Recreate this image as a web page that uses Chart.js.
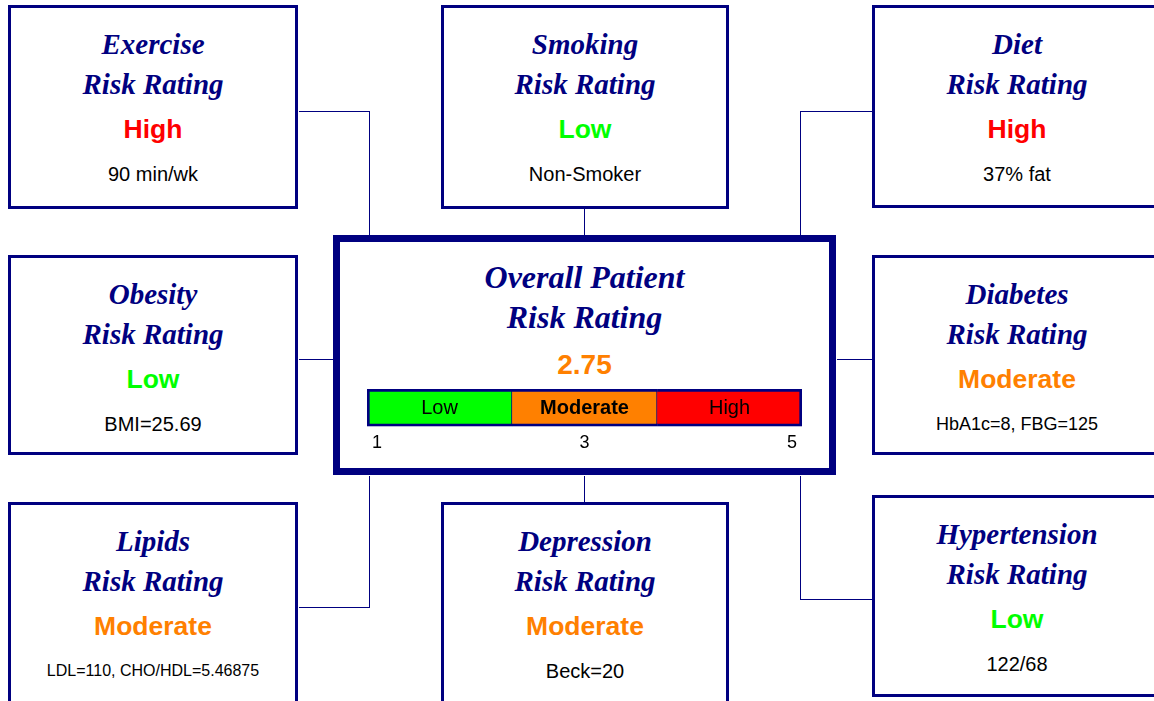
<!DOCTYPE html>
<html>
<head>
<meta charset="utf-8">
<title>Overall Patient Risk Rating</title>
<script src="https://cdn.jsdelivr.net/npm/chart.js@4.4.1/dist/chart.umd.min.js"></script>
<style>
  html, body { margin: 0; padding: 0; background: #fff; }
  body { width: 1154px; height: 701px; position: relative; overflow: hidden; }
  svg.wires { position: absolute; left: 0; top: 0; }
  .box { position: absolute; box-sizing: border-box; border: 3px solid #000080; background: #fff; }
  .txt { position: absolute; left: 0; right: 0; text-align: center; white-space: nowrap; }
  .title { font: italic bold 29px "Liberation Serif", "Times New Roman", serif; color: #000080; height: 36px; line-height: 36px; }
  .rating { font: bold 26.5px "Liberation Sans", Arial, sans-serif; height: 30px; line-height: 30px; }
  .detail { font: 20px "Liberation Sans", Arial, sans-serif; color: #000; height: 24px; line-height: 24px; }
  .detail.mid { font-size: 18px; }
  .detail.small { font-size: 16px; }
  #overall { left: 333px; top: 235px; width: 503px; height: 240px; border-width: 7px; }
  #overall .title { font-size: 32px; height: 40px; line-height: 40px; }
  #overall .score { font: bold 28px "Liberation Sans", Arial, sans-serif; height: 34px; line-height: 34px; top: 106px; }
  #gauge { position: absolute; left: 360px; top: 380px; }
</style>
</head>
<body>
<svg class="wires" width="1154" height="701" id="wires"></svg>
<div class="box" id="overall">
  <div class="txt title" style="top:15px">Overall Patient</div>
  <div class="txt title" style="top:55px">Risk Rating</div>
  <div class="txt score" id="score"></div>
</div>
<canvas id="gauge" width="450" height="80"></canvas>
<script>
// risk factors shown in the surrounding boxes
const factors = ['Exercise', 'Smoking', 'Diet', 'Obesity', 'Diabetes', 'Lipids', 'Depression', 'Hypertension'];
const ratings = ['High', 'Low', 'High', 'Low', 'Moderate', 'Moderate', 'Moderate', 'Low'];
const details = ['90 min/wk', 'Non-Smoker', '37% fat', 'BMI=25.69', 'HbA1c=8, FBG=125', 'LDL=110, CHO/HDL=5.46875', 'Beck=20', '122/68'];

// overall rating gauge
const overallScore = 2.75;
const bandLabels = ['Low', 'Moderate', 'High'];
const bandStart = [1, 2.333, 3.667];
const bandEnd = [2.333, 3.667, 5];
const scaleTicks = [1, 3, 5];

const NAVY = '#000080';
const ratingColors = { Low: '#00ff00', Moderate: '#ff8000', High: '#ff0000' };
const SANS = '"Liberation Sans", Arial, sans-serif';

// box placement, same order as factors
const boxes = [
  { left: 8, top: 5, width: 290, height: 204 },
  { left: 441, top: 5, width: 288, height: 204 },
  { left: 872, top: 5, width: 290, height: 203 },
  { left: 8, top: 255, width: 290, height: 200 },
  { left: 872, top: 255, width: 290, height: 200 },
  { left: 8, top: 502, width: 290, height: 210 },
  { left: 441, top: 502, width: 288, height: 210 },
  { left: 872, top: 495, width: 290, height: 202 },
];

// connector polylines
const wires = [
  [[298, 111], [369, 111], [369, 235]],
  [[584, 208], [584, 235]],
  [[872, 111], [800, 111], [800, 235]],
  [[298, 359], [333, 359]],
  [[836, 359], [872, 359]],
  [[298, 607], [369, 607], [369, 475]],
  [[584, 475], [584, 502]],
  [[872, 599], [800, 599], [800, 475]],
];

const svg = document.getElementById('wires');
wires.forEach((pts) => {
  const pl = document.createElementNS('http://www.w3.org/2000/svg', 'polyline');
  pl.setAttribute('points', pts.map(([x, y]) => `${x + 0.5},${y + 0.5}`).join(' '));
  pl.setAttribute('fill', 'none');
  pl.setAttribute('stroke', NAVY);
  pl.setAttribute('stroke-width', '1');
  pl.setAttribute('shape-rendering', 'crispEdges');
  svg.appendChild(pl);
});

// long detail lines get shrunk to fit, like the original
function detailClass(text) {
  if (text.length > 20) return ' small';
  if (text.length > 12) return ' mid';
  return '';
}

factors.forEach((name, i) => {
  const b = boxes[i];
  const el = document.createElement('div');
  el.className = 'box';
  Object.assign(el.style, { left: b.left + 'px', top: b.top + 'px', width: b.width + 'px', height: b.height + 'px' });
  el.innerHTML =
    `<div class="txt title" style="top:18px">${name}</div>` +
    `<div class="txt title" style="top:58px">Risk Rating</div>` +
    `<div class="txt rating" style="top:106px;color:${ratingColors[ratings[i]]}">${ratings[i]}</div>` +
    `<div class="txt detail${detailClass(details[i])}" style="top:154px">${details[i]}</div>`;
  document.body.appendChild(el);
});

const scoreBand = bandLabels.find((l, i) => overallScore >= bandStart[i] && overallScore < bandEnd[i]);
const scoreEl = document.getElementById('score');
scoreEl.textContent = overallScore.toFixed(2);
scoreEl.style.color = ratingColors[scoreBand];

const bandText = {
  id: 'bandText',
  afterDatasetsDraw(chart) {
    const ctx = chart.ctx;
    ctx.save();
    ctx.textAlign = 'center';
    ctx.textBaseline = 'middle';
    ctx.fillStyle = '#000';
    chart.data.datasets.forEach((ds, i) => {
      const bar = chart.getDatasetMeta(i).data[0];
      ctx.font = (ds.label === scoreBand ? 'bold ' : '') + '20px ' + SANS;
      ctx.fillText(ds.label, (bar.x + bar.base) / 2, bar.y + 1);
    });
    ctx.restore();
  },
};

new Chart(document.getElementById('gauge'), {
  type: 'bar',
  data: {
    labels: ['Overall'],
    datasets: bandLabels.map((label, i) => ({
      label,
      data: [[bandStart[i], bandEnd[i]]],
      backgroundColor: ratingColors[label],
      borderColor: NAVY,
      borderWidth: { top: 3, bottom: 3, left: i === 0 ? 3 : 0, right: i === bandLabels.length - 1 ? 3 : 1 },
      borderSkipped: false,
      grouped: false,
      barPercentage: 1,
      categoryPercentage: 1,
    })),
  },
  options: {
    indexAxis: 'y',
    responsive: false,
    animation: false,
    layout: { padding: { left: 7, right: 8, top: 9, bottom: 0 } },
    plugins: {
      legend: { display: false },
      tooltip: { enabled: false },
    },
    scales: {
      x: {
        type: 'linear',
        min: 1,
        max: 5,
        afterBuildTicks: (scale) => { scale.ticks = scaleTicks.map((v) => ({ value: v })); },
        grid: { display: false, drawTicks: false },
        border: { display: false },
        ticks: {
          align: 'inner',
          padding: 6,
          color: '#000',
          font: { family: SANS, size: 18 },
          // end labels sit a little inside the bar ends
          callback: (v, i, t) => (i === 0 ? ' ' + v : i === t.length - 1 ? v + ' ' : String(v)),
        },
      },
      y: { display: false },
    },
  },
  plugins: [bandText],
});
</script>
</body>
</html>
